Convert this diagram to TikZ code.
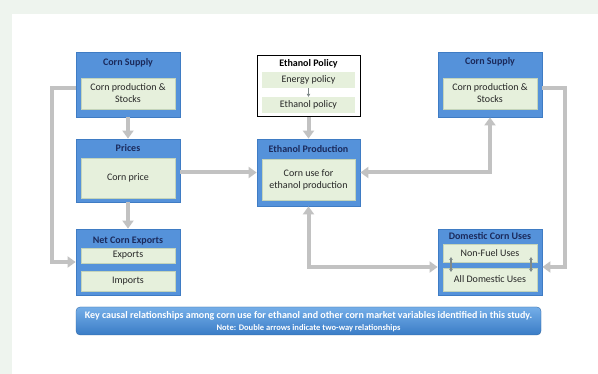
\documentclass[tikz,border=0pt]{standalone}
\usepackage{fontspec}
\setmainfont{Carlito}
\usetikzlibrary{arrows.meta}
\definecolor{bgout}{HTML}{EEF4EE}
\definecolor{boxblue}{HTML}{5592DA}
\definecolor{boxedge}{HTML}{3F7CC4}
\definecolor{innerfill}{HTML}{E6F0DC}
\definecolor{inneredge}{HTML}{C4D4BA}
\definecolor{titlecol}{HTML}{1B2A5C}
\definecolor{conncol}{HTML}{C2C2C2}
\definecolor{smallarr}{HTML}{7F8A8A}
\definecolor{captop}{HTML}{74AEE8}
\definecolor{capbot}{HTML}{3A7CC6}
\tikzset{
  bluebox/.style={draw=boxedge, fill=boxblue, line width=0.8pt, inner sep=0pt},
  policybox/.style={draw=black, fill=white, line width=1pt, inner sep=0pt},
  innerbox/.style={draw=inneredge, fill=innerfill, line width=0.4pt, inner sep=0pt, align=center, font=\fontsize{10}{12}\selectfont, text=black!85},
  polinner/.style={fill=innerfill, inner sep=0pt, font=\fontsize{10}{12}\selectfont, text=black!85},
  titletext/.style={font=\bfseries\fontsize{10}{12}\selectfont, text=titlecol, inner sep=0pt},
  conn/.style={draw=conncol, line width=4pt, -{Triangle[length=8pt,width=11pt]}},
  conn2/.style={draw=conncol, line width=4pt, {Triangle[length=8pt,width=11pt]}-{Triangle[length=8pt,width=11pt]}},
  tiny/.style={draw=smallarr, line width=1.4pt, {Triangle[length=3pt,width=3.5pt]}-{Triangle[length=3pt,width=3.5pt]}},
  tinyone/.style={draw=smallarr, line width=1pt, -{Triangle[length=3pt,width=3.5pt]}}
}
\begin{document}
\begin{tikzpicture}[x=1pt,y=-1pt]
\useasboundingbox (0,0) rectangle (598,374);
\fill[bgout] (0,0) rectangle (598,374);
\fill[white] (12,14) rectangle (598,374);

% Corn Supply left
\node[bluebox, minimum width=104pt, minimum height=65pt] (csL) at (128,84.5) {};
\node[titletext] (csLt) at (128,63) {Corn Supply};
\node[innerbox, minimum width=94pt, minimum height=31pt] (csLi) at (128,93.5) {Corn production \&\\Stocks};

% Prices
\node[bluebox, minimum width=104pt, minimum height=63pt] (pr) at (128,170.5) {};
\node[titletext] (prt) at (128,148) {Prices};
\node[innerbox, minimum width=94pt, minimum height=40pt] (pri) at (128,178) {Corn price};

% Net Corn Exports
\node[bluebox, minimum width=104pt, minimum height=66pt] (nce) at (128,262) {};
\node[titletext] (ncet) at (128,241) {Net Corn Exports};
\node[innerbox, minimum width=94pt, minimum height=15pt] (ncex) at (128,255.5) {Exports};
\node[innerbox, minimum width=94pt, minimum height=20pt] (ncim) at (128,281) {Imports};

% Ethanol Policy
\node[policybox, minimum width=103pt, minimum height=61pt] (pol) at (308.5,86.5) {};
\node[titletext, text=black] (polt) at (308.5,64) {Ethanol Policy};
\node[polinner, minimum width=93pt, minimum height=16pt] (pole) at (308.5,80) {Energy policy};
\node[polinner, minimum width=93pt, minimum height=16pt] (polp) at (308.5,105) {Ethanol policy};
\draw[tinyone] (pole.south) -- (polp.north);

% Ethanol Production
\node[bluebox, minimum width=103pt, minimum height=67pt] (ep) at (308.5,172.5) {};
\node[titletext] (ept) at (308.5,149) {Ethanol Production};
\node[innerbox, minimum width=93pt, minimum height=41pt] (epi) at (308.5,179.5) {Corn use for\\ethanol production};

% Corn Supply right
\node[bluebox, minimum width=104pt, minimum height=65pt] (csR) at (490,84.5) {};
\node[titletext] (csRt) at (490,62) {Corn Supply};
\node[innerbox, minimum width=94pt, minimum height=31pt] (csRi) at (490,93.5) {Corn production \&\\Stocks};

% Domestic Corn Uses
\node[bluebox, minimum width=104pt, minimum height=66pt] (dcu) at (490,262) {};
\node[titletext] (dcut) at (490,236.5) {Domestic Corn Uses};
\node[innerbox, minimum width=94pt, minimum height=18pt] (dcun) at (490,253) {Non-Fuel Uses};
\node[innerbox, minimum width=94pt, minimum height=23pt] (dcua) at (490,279.5) {All Domestic Uses};
\coordinate (dl1) at (451,257);
\coordinate (dl2) at (451,272);
\coordinate (dr1) at (531,257);
\coordinate (dr2) at (531,272);
\draw[tiny] (dl1) -- (dl2);
\draw[tiny] (dr1) -- (dr2);

% Connectors
\draw[conn] (csL.south) -- (pr.north);
\draw[conn] (pr.south) -- (nce.north);
\draw[conn] ([yshift=-3.5pt]csL.west) -- ++(-24,0) |- (nce.west);
\draw[conn] (ep.west -| pr.east) -- (ep.west);
\draw[conn] (pol.south) -- (ep.north);
\draw[conn2] (ep.east) -| (csR.south);
\draw[conn] ([yshift=-3.5pt]csR.east) -- ++(23,0) |- ([yshift=-5pt]dcu.east);
\draw[conn2] (ep.south) |- ([yshift=-5pt]dcu.west);

% Caption
\shade[top color=captop, bottom color=capbot, rounded corners=4pt, draw=capbot!80!black, line width=0.3pt] (76,307) rectangle (541,335);
\node[font=\bfseries\fontsize{10}{12}\selectfont, text=white, inner sep=0pt] (cap1) at (308.5,316) {Key causal relationships among corn use for ethanol and other corn market variables identified in this study.};
\node[font=\bfseries\fontsize{8.5}{10}\selectfont, text=white, inner sep=0pt] (cap2) at (308.5,328.5) {Note: Double arrows indicate two-way relationships};
\end{tikzpicture}
\end{document}
